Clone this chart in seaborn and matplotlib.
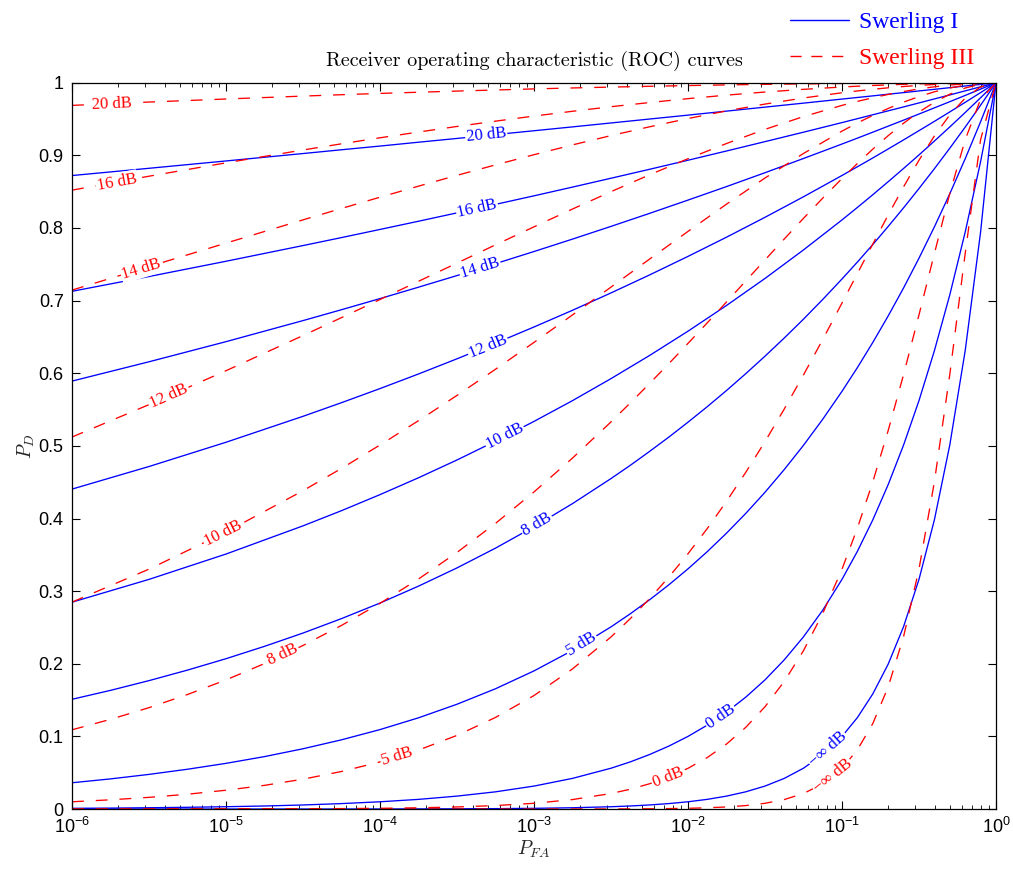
import numpy as np
import pandas as pd
import matplotlib
matplotlib.use("Agg")
import matplotlib.pyplot as plt
from matplotlib.lines import Line2D
from matplotlib.ticker import LogLocator, NullLocator, FixedLocator, FixedFormatter
import seaborn as sns

# ---------------- data ----------------
# P_FA sampling used for the flatter (high-SNR) curves
PFA_COARSE = [1e-6, 3.162e-6, 1e-5, 3.162e-5, 5.623e-5, 1e-4, 1.778e-4, 3.162e-4, 5.623e-4, 1e-3,
              1.778e-3, 3.162e-3, 5.623e-3, 1e-2, 1.778e-2, 3.162e-2, 5.623e-2, 0.1, 0.1259,
              0.1585, 0.1995, 0.2512, 0.3162, 0.3981, 0.5012, 0.6310, 0.7943, 1.0]
# P_FA sampling used for the strongly bent (low-SNR) curves
PFA_FINE = [1e-6, 1.778e-6, 3.162e-6, 5.623e-6, 1e-5, 1.778e-5, 3.162e-5, 5.623e-5, 1e-4,
            1.778e-4, 3.162e-4, 5.623e-4, 1e-3, 1.778e-3, 3.162e-3, 4.217e-3, 5.623e-3, 7.499e-3,
            1e-2, 1.334e-2, 1.778e-2, 2.371e-2, 3.162e-2, 4.217e-2, 5.623e-2, 7.499e-2, 0.1,
            0.1259, 0.1585, 0.1995, 0.2512, 0.3162, 0.3981, 0.5012, 0.6310, 0.7943, 1.0]

SNR_LABELS = ["20 dB", "16 dB", "14 dB", "12 dB", "10 dB", "8 dB", "5 dB", "0 dB", "\u2212\u221e dB"]

# Swerling I
SW1_20 = [0.8722, 0.8822, 0.8923, 0.9025, 0.9077, 0.9128, 0.9181, 0.9233, 0.9286, 0.9339,
          0.9392, 0.9446, 0.9500, 0.9554, 0.9609, 0.9664, 0.9719, 0.9775, 0.9797, 0.9819,
          0.9842, 0.9864, 0.9887, 0.9909, 0.9932, 0.9955, 0.9977, 1.0]
SW1_16 = [0.7128, 0.7332, 0.7542, 0.7758, 0.7868, 0.7980, 0.8093, 0.8208, 0.8325, 0.8443,
          0.8563, 0.8685, 0.8808, 0.8933, 0.9060, 0.9189, 0.9319, 0.9451, 0.9505, 0.9559,
          0.9613, 0.9667, 0.9722, 0.9777, 0.9832, 0.9888, 0.9944, 1.0]
SW1_14 = [0.5892, 0.6158, 0.6435, 0.6725, 0.6875, 0.7028, 0.7185, 0.7345, 0.7509, 0.7676,
          0.7847, 0.8022, 0.8201, 0.8384, 0.8570, 0.8761, 0.8957, 0.9156, 0.9237, 0.9319,
          0.9402, 0.9485, 0.9569, 0.9654, 0.9739, 0.9825, 0.9912, 1.0]
SW1_12 = [0.4405, 0.4716, 0.5050, 0.5407, 0.5595, 0.5789, 0.5990, 0.6199, 0.6414, 0.6637,
          0.6867, 0.7106, 0.7353, 0.7609, 0.7873, 0.8147, 0.8430, 0.8723, 0.8843, 0.8964,
          0.9088, 0.9213, 0.9340, 0.9468, 0.9598, 0.9730, 0.9864, 1.0]
SW1_10 = [0.2848, 0.3162, 0.3511, 0.3899, 0.4108, 0.4329, 0.4561, 0.4806, 0.5065, 0.5337,
          0.5623, 0.5926, 0.6244, 0.6579, 0.6933, 0.7305, 0.7698, 0.8111, 0.8283, 0.8458,
          0.8637, 0.8820, 0.9006, 0.9197, 0.9391, 0.9590, 0.9793, 1.0]
SW1_8 = [0.1511, 0.1634, 0.1768, 0.1913, 0.2070, 0.2240, 0.2423, 0.2622, 0.2836, 0.3069,
         0.3320, 0.3592, 0.3887, 0.4205, 0.4550, 0.4732, 0.4923, 0.5120, 0.5326, 0.5540,
         0.5762, 0.5994, 0.6235, 0.6485, 0.6745, 0.7016, 0.7298, 0.7531, 0.7772, 0.8021,
         0.8278, 0.8543, 0.8816, 0.9098, 0.9389, 0.9690, 1.0]
SW1_5 = [0.0362, 0.0415, 0.0477, 0.0548, 0.0629, 0.0722, 0.0830, 0.0953, 0.1094, 0.1256,
         0.1443, 0.1656, 0.1902, 0.2184, 0.2508, 0.2688, 0.2880, 0.3086, 0.3307, 0.3544,
         0.3798, 0.4070, 0.4361, 0.4674, 0.5008, 0.5367, 0.5751, 0.6078, 0.6424, 0.6789,
         0.7175, 0.7584, 0.8015, 0.8471, 0.8953, 0.9462, 1.0]
SW1_0 = [0.0010, 0.0013, 0.0018, 0.0024, 0.0032, 0.0042, 0.0056, 0.0075, 0.0100, 0.0133,
         0.0178, 0.0237, 0.0316, 0.0422, 0.0562, 0.0649, 0.0750, 0.0866, 0.1000, 0.1155,
         0.1334, 0.1540, 0.1778, 0.2054, 0.2371, 0.2738, 0.3162, 0.3548, 0.3981, 0.4467,
         0.5012, 0.5623, 0.6310, 0.7079, 0.7943, 0.8913, 1.0]
SW1_NINF = [0.000001, 0.0000018, 0.0000032, 0.0000056, 0.00001, 0.0000178, 0.0000316,
            0.0000562, 0.0001, 0.0001778, 0.0003162, 0.0005623, 0.001, 0.0017783, 0.0031623,
            0.004217, 0.0056234, 0.0074989, 0.01, 0.013335, 0.017783, 0.023714, 0.031623,
            0.04217, 0.056234, 0.074989, 0.1, 0.1259, 0.1585, 0.1995, 0.2512, 0.3162, 0.3981,
            0.5012, 0.6310, 0.7943, 1.0]

# Swerling III
SW3_20 = [0.9688, 0.9734, 0.9776, 0.9816, 0.9835, 0.9853, 0.9869, 0.9885, 0.9900, 0.9915,
          0.9928, 0.9940, 0.9951, 0.9961, 0.9970, 0.9978, 0.9984, 0.9990, 0.9992, 0.9994,
          0.9995, 0.9996, 0.9997, 0.9998, 0.9999, 1.0, 1.0, 1.0]
SW3_16 = [0.8521, 0.8713, 0.8897, 0.9074, 0.9159, 0.9242, 0.9321, 0.9398, 0.9471, 0.9541,
          0.9607, 0.9670, 0.9727, 0.9781, 0.9829, 0.9872, 0.9909, 0.9941, 0.9952, 0.9962,
          0.9970, 0.9978, 0.9985, 0.9990, 0.9994, 0.9998, 0.9999, 1.0]
SW3_14 = [0.7145, 0.7469, 0.7792, 0.8112, 0.8269, 0.8424, 0.8576, 0.8725, 0.8869, 0.9009,
          0.9144, 0.9272, 0.9393, 0.9507, 0.9612, 0.9706, 0.9790, 0.9862, 0.9887, 0.9909,
          0.9930, 0.9948, 0.9963, 0.9976, 0.9987, 0.9994, 0.9999, 1.0]
SW3_12 = [0.5122, 0.5568, 0.6035, 0.6519, 0.6766, 0.7015, 0.7266, 0.7517, 0.7768, 0.8016,
          0.8261, 0.8500, 0.8732, 0.8954, 0.9163, 0.9358, 0.9534, 0.9688, 0.9743, 0.9793,
          0.9839, 0.9879, 0.9915, 0.9944, 0.9968, 0.9986, 0.9996, 1.0]
SW3_10 = [0.2849, 0.3303, 0.3814, 0.4383, 0.4690, 0.5012, 0.5347, 0.5695, 0.6055, 0.6425,
          0.6803, 0.7186, 0.7571, 0.7953, 0.8328, 0.8688, 0.9026, 0.9334, 0.9446, 0.9550,
          0.9646, 0.9733, 0.9809, 0.9875, 0.9927, 0.9967, 0.9992, 1.0]
SW3_8 = [0.1091, 0.1235, 0.1396, 0.1577, 0.1778, 0.2003, 0.2252, 0.2528, 0.2832, 0.3167,
         0.3533, 0.3933, 0.4366, 0.4832, 0.5330, 0.5591, 0.5858, 0.6131, 0.6411, 0.6694,
         0.6981, 0.7270, 0.7560, 0.7848, 0.8133, 0.8411, 0.8681, 0.8888, 0.9086, 0.9271,
         0.9443, 0.9597, 0.9731, 0.9842, 0.9927, 0.9981, 1.0]
SW3_5 = [0.0100, 0.0127, 0.0161, 0.0204, 0.0259, 0.0326, 0.0411, 0.0517, 0.0649, 0.0812,
         0.1014, 0.1261, 0.1563, 0.1929, 0.2369, 0.2621, 0.2895, 0.3192, 0.3515, 0.3862,
         0.4236, 0.4635, 0.5059, 0.5507, 0.5977, 0.6465, 0.6967, 0.7373, 0.7779, 0.8179,
         0.8567, 0.8933, 0.9267, 0.9557, 0.9788, 0.9943, 1.0]
SW3_0 = [0.0000148, 0.0000253, 0.0000432, 0.0000736, 0.000125, 0.000212, 0.000359, 0.000607,
         0.001021, 0.001713, 0.002865, 0.004771, 0.007908, 0.013038, 0.021366, 0.027278,
         0.034757, 0.044191, 0.056052, 0.070907, 0.089440, 0.112445, 0.140845, 0.175683,
         0.218089, 0.269241, 0.330259, 0.386785, 0.450436, 0.521124, 0.598219, 0.680300,
         0.764777, 0.847395, 0.921521, 0.977229, 1.0]
SW3_NINF = [0.0, 0.0, 0.0, 0.0, 0.0, 0.0, 0.0, 0.0000001, 0.0000002, 0.0000006, 0.0000017,
            0.0000051, 0.0000148, 0.0000432, 0.000125, 0.000212, 0.000359, 0.000607, 0.001021,
            0.001713, 0.002865, 0.004771, 0.007908, 0.013038, 0.021366, 0.034757, 0.056052,
            0.081538, 0.117661, 0.168146, 0.237437, 0.330259, 0.450436, 0.598219, 0.764777,
            0.921521, 1.0]

SW1_CURVES = [SW1_20, SW1_16, SW1_14, SW1_12, SW1_10, SW1_8, SW1_5, SW1_0, SW1_NINF]
SW3_CURVES = [SW3_20, SW3_16, SW3_14, SW3_12, SW3_10, SW3_8, SW3_5, SW3_0, SW3_NINF]
CURVE_GRIDS = [PFA_COARSE] * 5 + [PFA_FINE] * 4

MODELS = ["Swerling I", "Swerling III"]
YTICKS = [0, 0.1, 0.2, 0.3, 0.4, 0.5, 0.6, 0.7, 0.8, 0.9, 1.0]
YTICK_LABELS = ["0", "0.1", "0.2", "0.3", "0.4", "0.5", "0.6", "0.7", "0.8", "0.9", "1"]

# label placement (log10 of P_FA where each in-line label sits)
SW1_LABEL_LOGX = [-3.31, -3.37, -3.35, -3.30, -3.19, -2.98, -2.69, -1.79, -1.09]
SW3_LABEL_LOGX = [-5.74, -5.71, -5.55, -5.37, -5.02, -4.63, -3.89, -2.13, -1.06]

BLUE = "#0000ff"
RED = "#ff0000"
PALETTE = {"Swerling I": BLUE, "Swerling III": RED}

# ---------------- build long table ----------------
rows = []
for model, curves in zip(MODELS, [SW1_CURVES, SW3_CURVES]):
    for lab, vals, grid in zip(SNR_LABELS, curves, CURVE_GRIDS):
        assert len(vals) == len(grid)
        for x, y in zip(grid, vals):
            rows.append((x, y, lab, model))
df = pd.DataFrame(rows, columns=["P_FA", "P_D", "SNR", "model"])

# ---------------- style ----------------
sns.set_theme(style="ticks")
plt.rcParams.update({
    "font.family": ["Liberation Sans", "DejaVu Sans"],
    "mathtext.fontset": "custom",
    "mathtext.rm": "Liberation Sans",
    "mathtext.it": "Liberation Sans:italic",
    "mathtext.bf": "Liberation Sans:bold",
    "axes.edgecolor": "black",
    "axes.linewidth": 0.9,
    "xtick.color": "black",
    "ytick.color": "black",
    "text.color": "black",
})

fig = plt.figure(figsize=(10.13, 8.69), dpi=100)
ax = fig.add_axes([0.0711, 0.0690, 0.9121, 0.8358])

sns.lineplot(data=df, x="P_FA", y="P_D", hue="model", style="model", units="SNR",
             estimator=None, sort=False, palette=PALETTE,
             dashes={"Swerling I": "", "Swerling III": (9, 9)},
             linewidth=0.95, legend=False, ax=ax)

ax.set_xscale("log")
ax.set_xlim(1e-6, 1.0)
ax.set_ylim(0, 1)
ax.xaxis.set_minor_locator(LogLocator(base=10, subs=np.arange(2, 10), numticks=100))
ax.yaxis.set_major_locator(FixedLocator(YTICKS))
ax.yaxis.set_major_formatter(FixedFormatter(YTICK_LABELS))
ax.yaxis.set_minor_locator(NullLocator())
ax.tick_params(which="both", direction="in", top=True, right=True, color="black")
ax.tick_params(which="major", length=6, width=0.8, labelsize=13, pad=6)
ax.tick_params(which="minor", length=3, width=0.6)

ax.set_xlabel(r"$P_{FA}$", fontsize=14, math_fontfamily="cm", labelpad=1)
ax.set_ylabel(r"$P_D$", fontsize=14, math_fontfamily="cm", labelpad=1)
ax.set_title("Receiver operating characteristic (ROC) curves", fontfamily="cmr10",
             fontsize=14.5, pad=12)

# ---------------- in-line curve labels ----------------


def place_label(grid, vals, lx, text, color):
    logx = np.log10(grid)
    ly = np.interp(lx, logx, vals)
    xa, xb = lx - 0.06, lx + 0.06
    pa = ax.transData.transform((10 ** xa, np.interp(xa, logx, vals)))
    pb = ax.transData.transform((10 ** xb, np.interp(xb, logx, vals)))
    ang = np.degrees(np.arctan2(pb[1] - pa[1], pb[0] - pa[0]))
    ax.text(10 ** lx, ly, text, rotation=ang, rotation_mode="anchor", ha="center",
            va="center", color=color, fontsize=12, family="Liberation Serif",
            bbox=dict(facecolor="white", edgecolor="none", pad=0.8), zorder=5)


for vals, grid, lx, lab in zip(SW1_CURVES, CURVE_GRIDS, SW1_LABEL_LOGX, SNR_LABELS):
    place_label(grid, vals, lx, lab, BLUE)
for vals, grid, lx, lab in zip(SW3_CURVES, CURVE_GRIDS, SW3_LABEL_LOGX, SNR_LABELS):
    place_label(grid, vals, lx, lab, RED)

# ---------------- legend ----------------
handles = [Line2D([], [], color=BLUE, lw=1.0),
           Line2D([], [], color=RED, lw=1.0, dashes=(8, 7))]
leg = fig.legend(handles, MODELS, loc="upper left", bbox_to_anchor=(0.776, 0.991),
                 frameon=False, prop={"family": "Liberation Serif", "size": 17},
                 handlelength=2.5, handletextpad=0.45, labelspacing=0.63,
                 borderpad=0.15, borderaxespad=0)
for t, c in zip(leg.get_texts(), [BLUE, RED]):
    t.set_color(c)

fig.savefig("out.png", dpi=100)
